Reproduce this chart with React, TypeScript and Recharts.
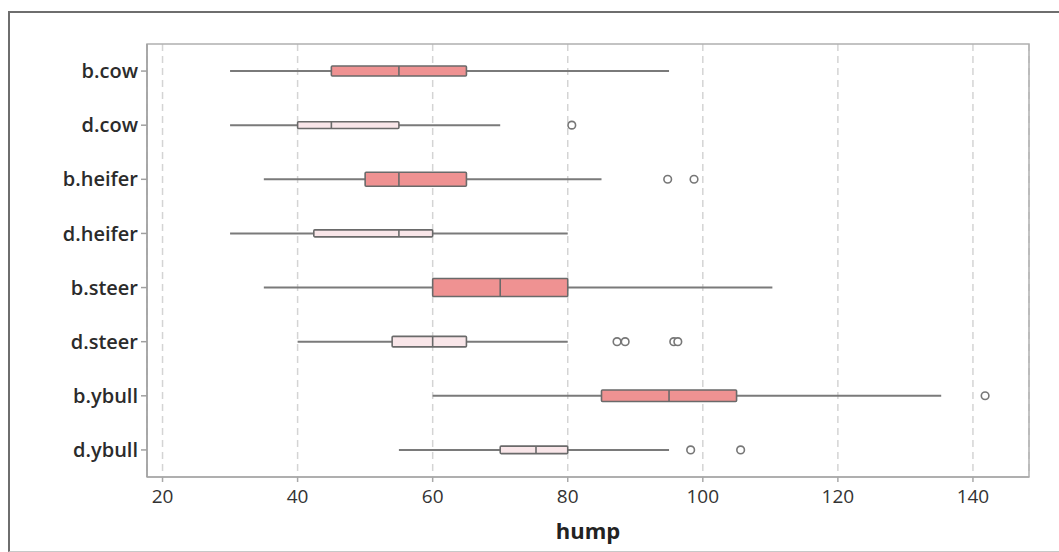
import React from "react";
import { Bar, CartesianGrid, ComposedChart, ReferenceArea, XAxis, YAxis } from "recharts";

// groups, top to bottom
const categories = ["b.cow", "d.cow", "b.heifer", "d.heifer", "b.steer", "d.steer", "b.ybull", "d.ybull"];
const whiskerLow = [30, 30, 35, 30, 35, 40, 60, 55];
const lowerQuartile = [45, 40, 50, 42.4, 60, 54, 85, 70];
const medians = [55, 45, 55, 55, 70, 60, 95, 75.3];
const upperQuartile = [65, 55, 65, 60, 80, 65, 105, 80];
const whiskerHigh = [95, 70, 85, 80, 110.3, 80, 135.3, 95];
const outliers: number[][] = [[], [80.6], [94.8, 98.7], [], [], [87.3, 88.5, 95.7, 96.3], [141.8], [98.2, 105.6]];
const sampleSizes = [25, 11, 50, 12, 82, 28, 33, 14]; // box thickness ~ sqrt(n)
const xTicks = [20, 40, 60, 80, 100, 120, 140];
const xDomain: [number, number] = [17.7, 148.3];

const rows = categories.map((name, i) => ({
  name,
  range: [whiskerLow[i], whiskerHigh[i]],
  low: whiskerLow[i],
  high: whiskerHigh[i],
  q1: lowerQuartile[i],
  med: medians[i],
  q3: upperQuartile[i],
  out: outliers[i],
  n: sampleSizes[i],
  fill: name.startsWith("b.") ? "#EF9292" : "#F9E6E9",
}));

const FONT = "'Open Sans', 'DejaVu Sans', sans-serif";

// the bar spans whisker low..high, so its x/width give the scale for the rest
const BoxShape = (props: any) => {
  const { x, y, width, height, payload } = props;
  const k = width / (payload.high - payload.low);
  const px = (v: number) => x + (v - payload.low) * k;
  const cy = y + height / 2;
  const bh = 2 * Math.sqrt(payload.n);
  return (
    <g>
      <line x1={px(payload.low)} x2={px(payload.q1)} y1={cy} y2={cy} stroke="#7a7a7a" strokeWidth={2} />
      <line x1={px(payload.q3)} x2={px(payload.high)} y1={cy} y2={cy} stroke="#7a7a7a" strokeWidth={2} />
      <rect
        x={px(payload.q1)}
        y={cy - bh / 2}
        width={px(payload.q3) - px(payload.q1)}
        height={bh}
        fill={payload.fill}
        stroke="#6a6a6a"
        strokeWidth={1.6}
        rx={1}
      />
      <line x1={px(payload.med)} x2={px(payload.med)} y1={cy - bh / 2} y2={cy + bh / 2} stroke="#6a6a6a" strokeWidth={1.6} />
      {payload.out.map((v: number, j: number) => (
        <circle key={j} cx={px(v)} cy={cy} r={3.8} fill="#fff" stroke="#777" strokeWidth={1.6} />
      ))}
    </g>
  );
};

export default function App() {
  return (
    <div
      style={{
        position: "fixed",
        left: 8,
        top: 11,
        width: 1051,
        height: 541,
        boxSizing: "border-box",
        borderTop: "2px solid #6e6e6e",
        borderLeft: "2px solid #6e6e6e",
        borderBottom: "1px solid #c8c8c8",
        background: "#fff",
      }}
    >
      <ComposedChart
        width={1049}
        height={538}
        data={rows}
        layout="vertical"
        margin={{ top: 31, right: 30, bottom: 0, left: 0 }}
        style={{ fontFamily: FONT }}
      >
        <CartesianGrid horizontal={false} strokeDasharray="7 5" stroke="#d4d4d4" strokeWidth={1.5} />
        <XAxis
          type="number"
          domain={xDomain}
          allowDataOverflow
          ticks={xTicks}
          height={74}
          tickSize={5}
          tickMargin={8}
          stroke="#a8a8a8"
          strokeWidth={1.5}
          tick={{ fill: "#333", fontSize: 19, fontFamily: FONT }}
          label={{ value: "hump", position: "insideBottom", offset: 12, fill: "#222", fontSize: 22, fontWeight: 700, fontFamily: FONT }}
        />
        <YAxis
          type="category"
          dataKey="name"
          width={137}
          tickSize={6}
          tickMargin={3}
          stroke="#a0a0a0"
          strokeWidth={1.5}
          tick={{ fill: "#2b2b2b", fontSize: 20, fontWeight: 600, fontFamily: FONT }}
        />
        <ReferenceArea x1={xDomain[0]} x2={xDomain[1]} fill="none" stroke="#b0b0b0" strokeWidth={1.5} />
        <Bar dataKey="range" barSize={30} shape={BoxShape} isAnimationActive={false} />
      </ComposedChart>
    </div>
  );
}
